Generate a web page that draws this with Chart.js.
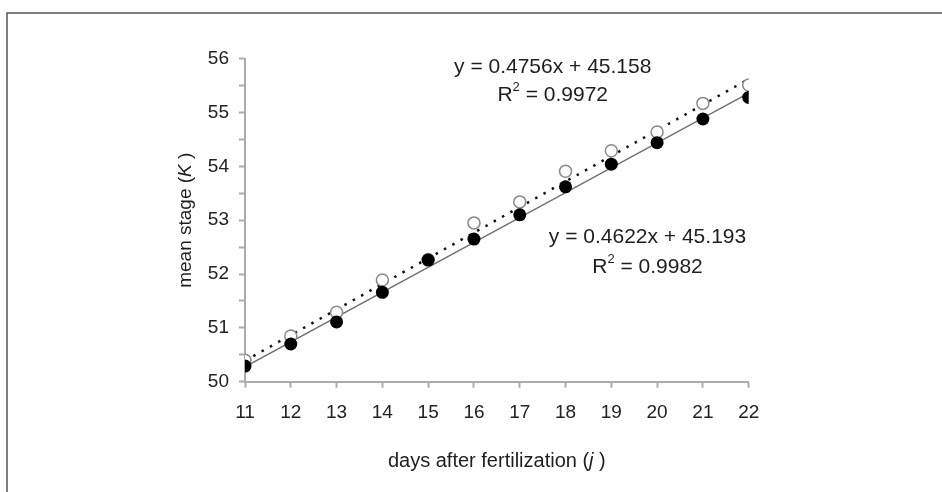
<!DOCTYPE html>
<html>
<head>
<meta charset="utf-8">
<script src="https://cdn.jsdelivr.net/npm/chart.js@4/dist/chart.umd.min.js"></script>
<style>
html, body { margin: 0; padding: 0; background: #fff; }
#wrap { width: 942px; height: 492px; position: relative; }
</style>
</head>
<body>
<div id="wrap"><canvas id="c"></canvas></div>
<script>
// values
const days = [11, 12, 13, 14, 15, 16, 17, 18, 19, 20, 21, 22];
const stageFilled = [50.29, 50.70, 51.11, 51.66, 52.26, 52.65, 53.10, 53.62, 54.04, 54.44, 54.88, 55.28];
const stageOpen = [50.40, 50.85, 51.29, 51.89, 52.27, 52.95, 53.34, 53.91, 54.29, 54.64, 55.17, 55.51];

// trendline coefficients as printed on the chart
const fitFilled = {slope: 0.4622, intercept: 45.193, r2: '0.9982'};
const fitOpen = {slope: 0.4756, intercept: 45.158, r2: '0.9972'};

const yTicks = [50, 51, 52, 53, 54, 55, 56];

const FONT = '"Liberation Sans", Arial, sans-serif';
const AXIS_GREY = '#ababab';

function points(xs, ys) {
    return xs.map((x, i) => ({x: x, y: ys[i]}));
}
function fitLine(fit) {
    const ends = [days[0], days[days.length - 1]];
    return ends.map(d => ({x: d, y: fit.slope * d + fit.intercept}));
}

// draws a row of text pieces, some italic or superscript, centred on cx
function drawRuns(ctx, runs, cx, cy, size) {
    const fontOf = r => (r.italic ? 'italic ' : '') + (r.sup ? Math.round(size * 0.62) : size) + 'px ' + FONT;
    let total = 0;
    runs.forEach(r => { ctx.font = fontOf(r); total += ctx.measureText(r.t).width; });
    let x = cx - total / 2;
    ctx.textAlign = 'left';
    ctx.textBaseline = 'middle';
    runs.forEach(r => {
        ctx.font = fontOf(r);
        ctx.fillText(r.t, x, r.sup ? cy - size * 0.38 : cy);
        x += ctx.measureText(r.t).width;
    });
}

const labelsPlugin = {
    id: 'labelsPlugin',
    beforeDraw(chart) {
        const ctx = chart.ctx;
        ctx.save();
        ctx.fillStyle = '#fff';
        ctx.fillRect(0, 0, chart.width, chart.height);
        // frame round the figure
        ctx.strokeStyle = '#555';
        ctx.lineWidth = 1.5;
        ctx.beginPath();
        ctx.moveTo(7, chart.height);
        ctx.lineTo(7, 13);
        ctx.lineTo(chart.width, 13);
        ctx.stroke();
        ctx.restore();
    },
    afterDraw(chart) {
        const ctx = chart.ctx;
        const xs = chart.scales.x, ys = chart.scales.y;
        const area = chart.chartArea;
        ctx.save();
        ctx.fillStyle = '#1e1e1e';

        // regression labels
        drawRuns(ctx, [{t: 'y = ' + fitOpen.slope + 'x + ' + fitOpen.intercept}],
            xs.getPixelForValue(17.72), ys.getPixelForValue(55.85), 21);
        drawRuns(ctx, [{t: 'R'}, {t: '2', sup: true}, {t: ' = ' + fitOpen.r2}],
            xs.getPixelForValue(17.72), ys.getPixelForValue(55.32), 21);
        drawRuns(ctx, [{t: 'y = ' + fitFilled.slope + 'x + ' + fitFilled.intercept}],
            xs.getPixelForValue(19.79), ys.getPixelForValue(52.69), 21);
        drawRuns(ctx, [{t: 'R'}, {t: '2', sup: true}, {t: ' = ' + fitFilled.r2}],
            xs.getPixelForValue(19.79), ys.getPixelForValue(52.13), 21);

        // axis titles
        drawRuns(ctx, [{t: 'days after fertilization ('}, {t: 'j', italic: true}, {t: ' )'}],
            (area.left + area.right) / 2, 461, 20);
        ctx.translate(186, (area.top + area.bottom) / 2);
        ctx.rotate(-Math.PI / 2);
        drawRuns(ctx, [{t: 'mean stage ('}, {t: 'K', italic: true}, {t: ' )'}], 0, 0, 19);
        ctx.restore();
    }
};

const chart = new Chart(document.getElementById('c'), {
    type: 'scatter',
    data: {
        datasets: [
            {
                label: 'filled',
                data: points(days, stageFilled),
                backgroundColor: '#000',
                borderColor: '#000',
                pointRadius: 6.5,
                pointBorderWidth: 0,
                order: 0
            },
            {
                label: 'open',
                data: points(days, stageOpen),
                backgroundColor: '#fff',
                borderColor: '#8a8a8a',
                pointRadius: 6,
                pointBorderWidth: 1.5,
                order: 1
            },
            {
                type: 'line',
                label: 'fit open',
                data: fitLine(fitOpen),
                borderColor: '#111',
                borderWidth: 2.5,
                borderDash: [2.5, 7],
                pointRadius: 0,
                fill: false,
                order: 2
            },
            {
                type: 'line',
                label: 'fit filled',
                data: fitLine(fitFilled),
                borderColor: '#707070',
                borderWidth: 1.4,
                pointRadius: 0,
                fill: false,
                order: 3
            }
        ]
    },
    options: {
        responsive: true,
        maintainAspectRatio: false,
        animation: false,
        layout: {padding: {left: 0, top: 58.7, right: 193.3, bottom: 0}},
        plugins: {
            legend: {display: false},
            tooltip: {enabled: false}
        },
        scales: {
            x: {
                type: 'linear',
                min: days[0],
                max: days[days.length - 1],
                ticks: {stepSize: 1, color: '#222', font: {family: FONT, size: 19}, padding: 14},
                grid: {drawOnChartArea: false, tickLength: 6, color: AXIS_GREY, tickWidth: 2},
                border: {color: AXIS_GREY, width: 2},
                afterFit(s) { s.height = 110.3; }
            },
            y: {
                min: yTicks[0],
                max: yTicks[yTicks.length - 1],
                ticks: {
                    stepSize: 0.5,
                    color: '#222',
                    font: {family: FONT, size: 19},
                    padding: 10,
                    callback: v => yTicks.includes(v) ? String(v) : ''
                },
                grid: {drawOnChartArea: false, tickLength: 6, color: AXIS_GREY, tickWidth: 2},
                border: {color: AXIS_GREY, width: 2},
                afterFit(s) { s.width = 245; }
            }
        }
    },
    plugins: [labelsPlugin]
});
</script>
</body>
</html>
